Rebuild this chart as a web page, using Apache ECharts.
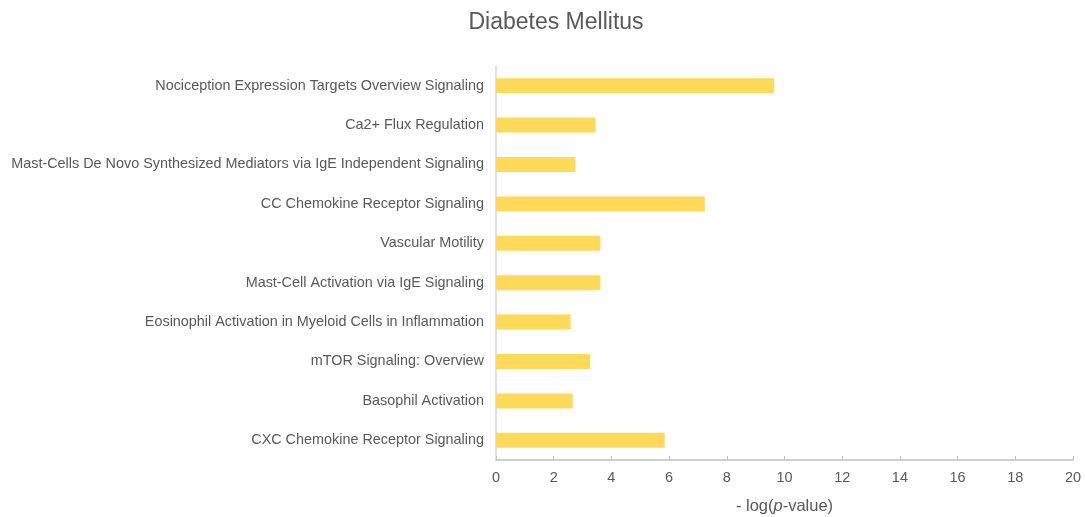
<!DOCTYPE html>
<html><head><meta charset="utf-8">
<script src="https://cdn.jsdelivr.net/npm/echarts@6/dist/echarts.min.js"></script>
<style>html,body{margin:0;padding:0;background:#fff}#c{width:1085px;height:517px}</style>
</head><body><div id="c"></div>
<script>
const categories = [
  'Nociception Expression Targets Overview Signaling',
  'Ca2+ Flux Regulation',
  'Mast-Cells De Novo Synthesized Mediators via IgE Independent Signaling',
  'CC Chemokine Receptor Signaling',
  'Vascular Motility',
  'Mast-Cell Activation via IgE Signaling',
  'Eosinophil Activation in Myeloid Cells in Inflammation',
  'mTOR Signaling: Overview',
  'Basophil Activation',
  'CXC Chemokine Receptor Signaling'
];
const values = [9.64, 3.45, 2.75, 7.24, 3.62, 3.62, 2.59, 3.26, 2.66, 5.85];
const xTicks = [0, 2, 4, 6, 8, 10, 12, 14, 16, 18, 20];

const chart = echarts.init(document.getElementById('c'));
chart.setOption({
  animation: false,
  title: {
    text: 'Diabetes Mellitus', left: 551, top: 6, textAlign: 'center',
    textStyle: { fontFamily: 'Liberation Sans', fontSize: 23, fontWeight: 'normal', color: '#595959' }
  },
  grid: { left: 496, right: 12, top: 66, bottom: 57, outerBoundsMode: 'none', containLabel: false },
  xAxis: {
    type: 'value', min: xTicks[0], max: xTicks[xTicks.length - 1], interval: 2,
    name: '{a|- log(}{b|p}{a|-value)}', nameLocation: 'middle', nameGap: 38,
    nameTextStyle: { rich: {
      a: { fontFamily: 'Liberation Sans', fontSize: 16.5, color: '#595959' },
      b: { fontFamily: 'Liberation Sans', fontSize: 16.5, color: '#595959', fontStyle: 'italic' }
    } },
    axisLine: { show: true, lineStyle: { color: '#bfbfbf', width: 1.5 } },
    axisTick: { show: true, inside: true, length: 4, lineStyle: { color: '#bfbfbf' } },
    axisLabel: { fontFamily: 'Liberation Sans', fontSize: 14.5, color: '#595959', margin: 10 },
    splitLine: { show: false }
  },
  yAxis: {
    type: 'category', data: categories, inverse: true,
    axisLine: { show: true, lineStyle: { color: '#d9d9d9', width: 1.5 } },
    axisTick: { show: false },
    axisLabel: { fontFamily: 'Liberation Sans', fontSize: 14.4, color: '#595959', margin: 12 }
  },
  series: [{
    type: 'bar', data: values, barWidth: 15,
    itemStyle: { color: '#FFD95A' }
  }]
});
</script></body></html>
